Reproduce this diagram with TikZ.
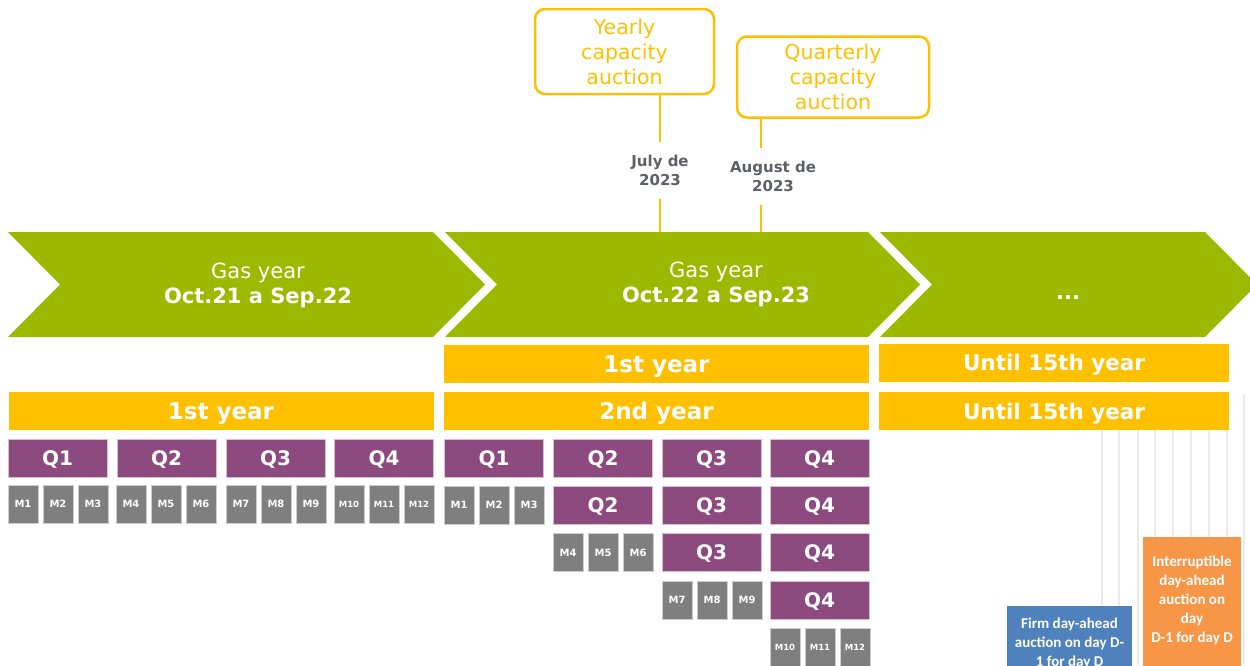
\documentclass[tikz,border=0pt]{standalone}
\usepackage{fontspec}
\setmainfont{DejaVu Sans}
\newfontfamily\calfont{Carlito}
\definecolor{gasgreen}{HTML}{9CB900}
\definecolor{baryellow}{HTML}{FFC000}
\definecolor{qpurple}{HTML}{8C4A7E}
\definecolor{mgrey}{HTML}{7F7F7F}
\definecolor{datetext}{HTML}{5F6066}
\definecolor{dayblue}{HTML}{4F81BD}
\definecolor{dayorange}{HTML}{F79646}
\definecolor{gridgrey}{HTML}{EBEBEB}
\tikzset{
  gasyear/.style={fill=gasgreen},
  gastext/.style={text=white, align=center, font=\fontsize{21pt}{25pt}\selectfont},
  yearbar/.style={fill=baryellow, text=white, minimum width=425pt, minimum height=38pt, inner sep=0pt, text depth=0pt, font=\bfseries\fontsize{23pt}{27pt}\selectfont},
  untilbar/.style={yearbar, minimum width=350pt, font=\bfseries\fontsize{21.5pt}{26pt}\selectfont},
  qbox/.style={fill=qpurple, draw=qpurple!35, line width=0.6pt, text=white, minimum width=99pt, minimum height=38pt, inner sep=0pt, text depth=0pt, font=\bfseries\fontsize{20pt}{24pt}\selectfont},
  mbox/.style={fill=mgrey, draw=mgrey!40, line width=0.6pt, text=white, minimum width=30pt, minimum height=38pt, inner sep=0pt, font=\bfseries\fontsize{10pt}{12pt}\selectfont},
  mboxs/.style={mbox, font=\bfseries\fontsize{8.5pt}{10pt}\selectfont},
  auction/.style={draw=baryellow, line width=2.5pt, rounded corners=10pt, text=baryellow, align=center, inner sep=0pt, font=\fontsize{20.5pt}{25pt}\selectfont},
  datelabel/.style={text=datetext, align=center, inner xsep=0pt, inner ysep=13pt, font=\bfseries\fontsize{15pt}{19pt}\selectfont},
  callline/.style={draw=baryellow, line width=2pt},
  gridline/.style={draw=gridgrey, line width=2pt},
  dayblock/.style={anchor=north, align=center, text=white, inner xsep=0pt, text depth=100pt, font=\calfont\bfseries\fontsize{15pt}{19pt}\selectfont},
}
\begin{document}
\begin{tikzpicture}[x=1pt,y=-1pt]
    \useasboundingbox (0,0) rectangle (1250,665);
    \clip (0,0) rectangle (1250,665);

    % gas years
    \fill[gasyear] (8,232) -- (433,232) -- (485,284.5) -- (433,337) -- (8,337) -- (60,284.5) -- cycle;
    \fill[gasyear] (445,232) -- (868,232) -- (920,284.5) -- (868,337) -- (445,337) -- (497,284.5) -- cycle;
    \fill[gasyear] (880,232) -- (1205,232) -- (1257,284.5) -- (1205,337) -- (880,337) -- (932,284.5) -- cycle;
    \node[gastext] (gy1) at (258,285) {Gas year\\\textbf{Oct.21 a Sep.22}};
    \node[gastext] (gy2) at (716,284) {Gas year\\\textbf{Oct.22 a Sep.23}};
    \node[gastext] (gy3) at (1068,298) {\textbf{...}};

    % auctions
    \node[auction, minimum width=179pt, minimum height=85pt] (yearly) at (624.5,51.5) {Yearly\\capacity\\auction};
    \node[auction, minimum width=192pt, minimum height=81pt] (quarterly) at (833,77) {Quarterly\\capacity\\auction};
    \node[datelabel] (julyd) at (660,170) {July de\\2023};
    \node[datelabel] (augd) at (773,176.5) {August de\\2023};
    \coordinate (ytick) at (660,232);
    \coordinate (qtick) at (761,232);
    \draw[callline] (ytick |- yearly.south) -- (ytick |- julyd.north);
    \draw[callline] (ytick |- julyd.south) -- (ytick);
    \draw[callline] (qtick |- quarterly.south) -- (qtick |- augd.north);
    \draw[callline] (qtick |- augd.south) -- (qtick);

    % days
    \draw[gridline] (1102,430) -- (1102,665) (1119,430) -- (1119,665)
      (1138,430) -- (1138,665) (1155,430) -- (1155,665)
      (1173,430) -- (1173,665) (1191,430) -- (1191,665)
      (1209,430) -- (1209,665) (1227,430) -- (1227,665)
      (1244,394) -- (1244,665);
    \node[dayblock, fill=dayblue, minimum width=125pt, inner ysep=12pt] (firm) at (1069.5,606) {Firm day-ahead\\auction on day D-\\1 for day D};
    \node[dayblock, fill=dayorange, minimum width=98pt, inner ysep=19pt] (interr) at (1192,537) {Interruptible\\day-ahead\\auction on\\day\\D-1 for day D};

    % years
    \node[yearbar] (yr1l) at (221,411) {1st year};
    \node[yearbar] (yr1r) at (656.5,364) {1st year};
    \node[yearbar] (yr2r) at (656.5,411) {2nd year};
    \node[untilbar] (u15a) at (1054,362.5) {Until 15th year};
    \node[untilbar] (u15b) at (1054,411) {Until 15th year};

    % first gas year
    \node[qbox] (q1l) at (57.5,458) {Q1};
    \node[qbox] (q2l) at (166.5,458) {Q2};
    \node[qbox] (q3l) at (275.5,458.5) {Q3};
    \node[qbox] (q4l) at (384,458.5) {Q4};
    \node[mbox] (m1l) at (23,504) {M1};
    \node[mbox] (m2l) at (58,504) {M2};
    \node[mbox] (m3l) at (93,504) {M3};
    \node[mbox] (m4l) at (131,504) {M4};
    \node[mbox] (m5l) at (166,504) {M5};
    \node[mbox] (m6l) at (201,504) {M6};
    \node[mbox] (m7l) at (241,504) {M7};
    \node[mbox] (m8l) at (276,504) {M8};
    \node[mbox] (m9l) at (311,504) {M9};
    \node[mboxs] (m10l) at (349,504) {M10};
    \node[mboxs] (m11l) at (384,504) {M11};
    \node[mboxs] (m12l) at (419,504) {M12};

    % second gas year
    \node[qbox] (q1r) at (494,458) {Q1};
    \node[qbox] (q2r) at (603,458) {Q2};
    \node[qbox] (q3r) at (711.5,458) {Q3};
    \node[qbox] (q4r) at (819.5,458) {Q4};
    \node[qbox] (q2rb) at (603,505) {Q2};
    \node[qbox] (q3rb) at (711.5,505) {Q3};
    \node[qbox] (q4rb) at (819.5,505) {Q4};
    \node[qbox] (q3rc) at (711.5,552.5) {Q3};
    \node[qbox] (q4rc) at (819.5,552.5) {Q4};
    \node[qbox] (q4rd) at (819.5,600) {Q4};
    \node[mbox] (m1r) at (459,505) {M1};
    \node[mbox] (m2r) at (494,505) {M2};
    \node[mbox] (m3r) at (529,505) {M3};
    \node[mbox] (m4r) at (568,552.5) {M4};
    \node[mbox] (m5r) at (603,552.5) {M5};
    \node[mbox] (m6r) at (638,552.5) {M6};
    \node[mbox] (m7r) at (677,600) {M7};
    \node[mbox] (m8r) at (712,600) {M8};
    \node[mbox] (m9r) at (747,600) {M9};
    \node[mboxs] (m10r) at (785,647.5) {M10};
    \node[mboxs] (m11r) at (820,647.5) {M11};
    \node[mboxs] (m12r) at (855,647.5) {M12};
\end{tikzpicture}
\end{document}
